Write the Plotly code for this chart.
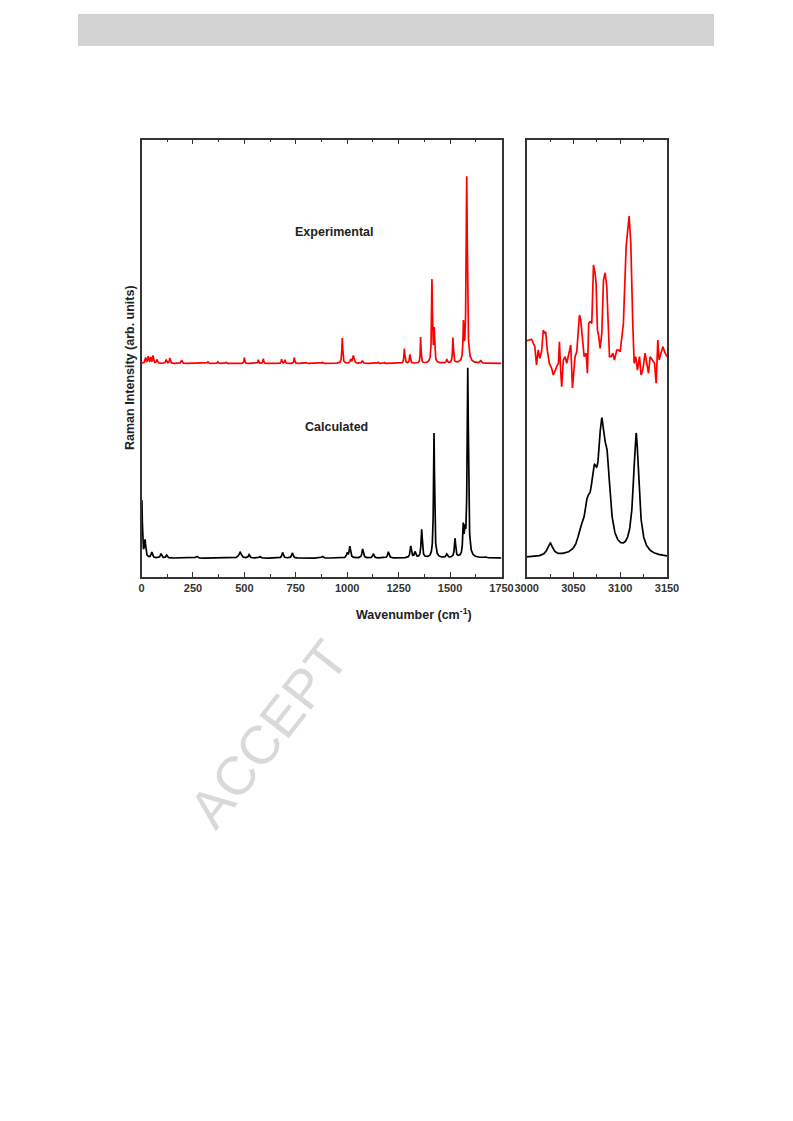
import numpy as np
import plotly.graph_objects as go

# ---------------- data ----------------
# Left panel, calculated spectrum: Lorentzian bands (position cm-1, height, FWHM)
calc_pos = [2, 17, 50, 95, 122, 268, 479, 523, 576, 686, 733, 879, 1000, 1013,
            1075, 1127, 1200, 1309, 1330, 1362, 1422, 1484, 1524, 1564, 1572, 1586, 1673]
calc_height = [0.30, 0.09, 0.03, 0.023, 0.015, 0.01, 0.03, 0.018, 0.008, 0.03, 0.027, 0.01,
               0.025, 0.06, 0.048, 0.022, 0.033, 0.062, 0.03, 0.15, 0.66, 0.018, 0.10,
               0.15, 0.10, 1.00, 0.005]
calc_fwhm = [5, 8, 8, 8, 8, 10, 14, 8, 8, 8, 8, 10, 8, 8, 8, 8, 8, 8, 8, 7, 6, 8, 7,
             6, 6, 7, 8]

# Left panel, experimental spectrum (offset above calculated)
exp_offset = 1.03
exp_pos = [20, 33, 45, 56, 75, 120, 138, 195, 323, 372, 410, 500, 568, 592, 681, 697,
           743, 800, 880, 976, 1017, 1030, 1073, 1150, 1180, 1278, 1305, 1357, 1412,
           1423, 1484, 1514, 1565, 1581, 1649]
exp_height = [0.03, 0.035, 0.03, 0.04, 0.02, 0.02, 0.028, 0.018, 0.008, 0.008, 0.006,
              0.03, 0.02, 0.025, 0.022, 0.02, 0.032, 0.005, 0.006, 0.134, 0.02, 0.04,
              0.015, 0.006, 0.005, 0.078, 0.046, 0.138, 0.437, 0.17, 0.02, 0.134, 0.19,
              0.985, 0.015]
exp_fwhm = [6, 5, 5, 5, 6, 5, 5, 6, 5, 5, 5, 4, 4, 4, 4, 4, 4, 5, 5, 5, 6, 8, 6, 5, 5,
            5, 5, 4, 5, 5, 5, 5, 5, 6.5, 6]

# Right panel, calculated C-H stretching region
ch_calc_pos = [3025, 3058, 3065, 3072, 3080, 3086, 3117]
ch_calc_height = [0.07, 0.08, 0.18, 0.30, 0.55, 0.36, 0.645]
ch_calc_fwhm = [7, 8, 8, 8, 8, 8, 7]

# Right panel, experimental C-H region (noisy trace)
ch_exp_x = [3000, 3005.2, 3007, 3008.7, 3010.5, 3012.3, 3014.1, 3015.9, 3017.8, 3018.8,
            3020.3, 3022, 3024.2, 3026.7, 3028.5, 3030.3, 3032.1, 3033.9, 3035, 3036.3,
            3037.4, 3039.2, 3041, 3042.8, 3045.6, 3047.1, 3048.9, 3051.7, 3053.5, 3056.4,
            3057.8, 3059.9, 3061.4, 3063.5, 3064.9, 3066.3, 3067.8, 3069.6, 3071.4, 3073.1,
            3074.2, 3075.6, 3077.1, 3078.5, 3080.3, 3082.1, 3083.9, 3085.6, 3087.1, 3088.5,
            3090.3, 3092.1, 3093.8, 3096.3, 3098.1, 3099.9, 3103.4, 3106.3, 3109.5, 3111.3,
            3113.4, 3114.9, 3116.6, 3118.4, 3120.6, 3122.3, 3124.1, 3126.6, 3128.4, 3130.2,
            3132, 3134.8, 3136.6, 3138.4, 3140.2, 3141.6, 3143.4, 3145.5, 3148.1, 3150]
ch_exp_y = [1.150, 1.158, 1.137, 1.119, 1.022, 1.101, 1.057, 1.092, 1.207, 1.189,
            1.198, 1.101, 1.031, 1.004, 0.969, 0.995, 1.013, 1.031, 1.145, 0.995,
            0.907, 1.048, 1.066, 1.031, 1.101, 1.128, 0.900, 1.066, 1.092, 1.286,
            1.260, 1.137, 1.066, 1.084, 0.978, 1.242, 1.251, 1.242, 1.551, 1.507,
            1.454, 1.207, 1.171, 1.110, 1.189, 1.471, 1.510, 1.436, 1.207, 1.066,
            1.066, 1.084, 1.048, 1.101, 1.101, 1.092, 1.242, 1.648, 1.810, 1.666,
            1.242, 1.031, 1.066, 0.995, 1.066, 0.969, 0.995, 1.084, 1.031, 0.978,
            1.066, 1.048, 1.031, 0.925, 1.154, 1.048, 1.084, 1.119, 1.084, 1.066]

left_ticks = [0, 250, 500, 750, 1000, 1250, 1500, 1750]
right_ticks = [3000, 3050, 3100, 3150]


def lorentz_sum(x, pos, height, fwhm, offset=0.0):
    y = np.full_like(x, offset, dtype=float)
    for p, h, w in zip(pos, height, fwhm):
        g = (w / 2.0) ** 2
        y += h * g / ((x - p) ** 2 + g)
    return y


x_left = np.arange(0, 1750.01, 0.5)
x_right = np.arange(3000, 3150.01, 0.25)
y_calc = lorentz_sum(x_left, calc_pos, calc_height, calc_fwhm)
y_exp = lorentz_sum(x_left, exp_pos, exp_height, exp_fwhm, exp_offset)
y_ch_calc = lorentz_sum(x_right, ch_calc_pos, ch_calc_height, ch_calc_fwhm)

W, H = 793, 1121
def px(x):
    return x / W
def py(y):
    return 1 - y / H

fig = go.Figure()
fig.add_trace(go.Scatter(x=x_left, y=y_exp, mode="lines",
                         line=dict(color="#ff0000", width=1.7), xaxis="x", yaxis="y"))
fig.add_trace(go.Scatter(x=x_left, y=y_calc, mode="lines",
                         line=dict(color="#000000", width=1.7), xaxis="x", yaxis="y"))
fig.add_trace(go.Scatter(x=ch_exp_x, y=ch_exp_y, mode="lines",
                         line=dict(color="#ff0000", width=1.7), xaxis="x2", yaxis="y2"))
fig.add_trace(go.Scatter(x=x_right, y=y_ch_calc, mode="lines",
                         line=dict(color="#000000", width=1.7), xaxis="x2", yaxis="y2"))

ydom = [py(577), py(139.5)]
yr = [-0.1, 2.215]
tickfont = dict(family="Liberation Sans, Arial, sans-serif", size=11, color="#333333",
                weight="bold")
axis_common = dict(showline=True, linecolor="#333333", linewidth=1.6, mirror="ticks",
                   ticks="inside", ticklen=5, tickwidth=1.3, tickcolor="#333333",
                   showgrid=False, zeroline=False, tickfont=tickfont, automargin=False)

fig.update_layout(
    width=W, height=H, autosize=False,
    margin=dict(l=0, r=0, t=0, b=0, pad=0, autoexpand=False),
    paper_bgcolor="white", plot_bgcolor="white", showlegend=False,
    xaxis=dict(domain=[px(141.5), px(501.5)], range=[0, 1750], anchor="y",
               tickvals=left_ticks, ticktext=[str(v) for v in left_ticks],
               minor=dict(ticks="inside", dtick=125, tick0=0, ticklen=3,
                          tickwidth=1.2, tickcolor="#333333"),
               **axis_common),
    yaxis=dict(domain=ydom, range=yr, anchor="x", showline=True, linecolor="#333333",
               linewidth=1.6, mirror=True, ticks="", showticklabels=False,
               showgrid=False, zeroline=False, automargin=False),
    xaxis2=dict(domain=[px(526.7), px(667)], range=[3000, 3150], anchor="y2",
                tickvals=right_ticks, ticktext=[str(v) for v in right_ticks],
                minor=dict(ticks="inside", dtick=25, tick0=3000, ticklen=3,
                           tickwidth=1.2, tickcolor="#333333"),
                **axis_common),
    yaxis2=dict(domain=ydom, range=yr, anchor="x2", showline=True, linecolor="#333333",
                linewidth=1.6, mirror=True, ticks="", showticklabels=False,
                showgrid=False, zeroline=False, automargin=False),
)

labfont = dict(family="Liberation Sans, Arial, sans-serif", size=12.5, color="#222222",
               weight="bold")
def note(x, y, text, font, angle=0):
    fig.add_annotation(x=px(x), y=py(y), xref="paper", yref="paper", text=text,
                       textangle=angle, showarrow=False, font=font,
                       xanchor="center", yanchor="middle")

note(414, 614, "Wavenumber (cm<sup>-1</sup>)", labfont)
note(130, 368, "Raman Intensity (arb. units)", labfont, -90)
note(334, 232, "Experimental", labfont)
note(336, 427, "Calculated", labfont)

# watermark fragment
note(268, 734, "ACCEPT", dict(family="Liberation Sans, Arial, sans-serif", size=54,
                              color="#d9d9d9"), -52)

# grey header bar
fig.add_shape(type="rect", xref="paper", yref="paper", x0=px(78), x1=px(714),
              y0=py(46), y1=py(14), fillcolor="#d3d3d3", line=dict(width=0),
              layer="below")

fig.write_html("out.html", config={"responsive": False, "displayModeBar": False},
               post_script="document.body.style.margin='0px';"
                           "document.body.style.overflow='hidden';")
